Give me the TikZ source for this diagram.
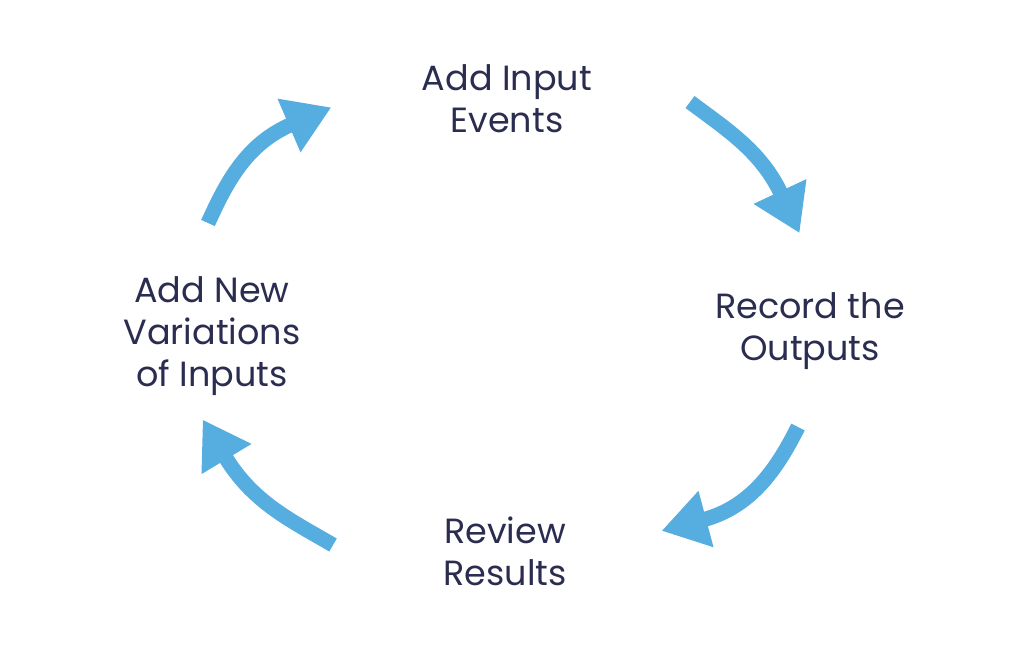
\documentclass[tikz,border=0pt]{standalone}
\usepackage{fontspec}
\setmainfont{Poppins}
\usetikzlibrary{arrows.meta}
\definecolor{arrowblue}{HTML}{56ADE0}
\definecolor{navy}{HTML}{2B2D50}
\begin{document}
\begin{tikzpicture}[x=1pt,y=-1pt,
  label/.style={align=center,inner sep=0pt,text=navy,font=\fontsize{35}{42}\selectfont},
  cyc/.style={draw=arrowblue,line width=15pt,shorten >=-46pt,-{Triangle[length=46pt,width=55pt]}}]
\useasboundingbox[fill=white] (0,0) rectangle (1024,649);
\node[label] (add) at (507,99) {Add Input\\Events};
\node[label] (rec) at (810,331) {Record the\\Outputs};
\node[label] (rev) at (505,551) {Review\\Results};
\node[label] (var) at (212,336) {Add New\\Variations\\of Inputs};
\coordinate (t1) at (690,102); \coordinate (h1) at (780,191.5);
\coordinate (t2) at (798,427); \coordinate (h2) at (706,519);
\coordinate (t3) at (333,545); \coordinate (h3) at (226.5,459);
\coordinate (t4) at (208,223); \coordinate (h4) at (289,125.5);
\draw[cyc] (t1) .. controls (726,129) and (761,151) .. (h1);
\draw[cyc] (t2) .. controls (777,469) and (751,507) .. (h2);
\draw[cyc] (t3) .. controls (290,520) and (252.5,502) .. (h3);
\draw[cyc] (t4) .. controls (227,181) and (247,143.5) .. (h4);
\end{tikzpicture}
\end{document}
